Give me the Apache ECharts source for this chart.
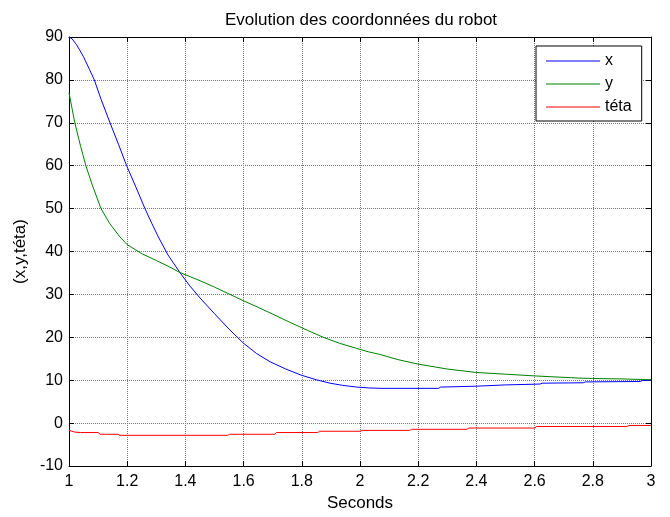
<!DOCTYPE html>
<html>
<head>
<meta charset="utf-8">
<script src="https://cdn.jsdelivr.net/npm/echarts@6/dist/echarts.min.js"></script>
<style>
  html, body { margin: 0; padding: 0; background: #fff; }
  #chart { width: 670px; height: 517px; }
</style>
</head>
<body>
<div id="chart"></div>
<script>
// Robot coordinates over time (seconds)
const xTimes = [1.0, 1.01, 1.026, 1.049, 1.07, 1.087, 1.11, 1.141, 1.17, 1.198, 1.23, 1.261, 1.285, 1.307, 1.34, 1.381, 1.415, 1.45, 1.5, 1.55, 1.6, 1.645, 1.691, 1.745, 1.797, 1.85, 1.897, 1.94, 1.989, 2.03, 2.069, 2.27, 2.277, 2.398, 2.5, 2.619, 2.626, 2.767, 2.774, 2.962, 2.97, 3.0];
const xValues = [90, 89.6, 88.2, 85.5, 82.5, 80, 75.5, 70, 65, 60, 55, 50, 46.5, 43.4, 39.2, 35.1, 32.0, 29.2, 25.5, 21.9, 18.6, 16.2, 14.3, 12.6, 11.2, 10.1, 9.3, 8.8, 8.4, 8.2, 8.1, 8.1, 8.4, 8.6, 8.9, 9.1, 9.3, 9.4, 9.6, 9.7, 9.9, 10.0];

const yTimes = [1.0, 1.01, 1.02, 1.04, 1.058, 1.08, 1.11, 1.14, 1.175, 1.2, 1.25, 1.3, 1.34, 1.381, 1.45, 1.5, 1.553, 1.6, 1.656, 1.7, 1.759, 1.82, 1.874, 1.93, 1.989, 2.03, 2.069, 2.13, 2.2, 2.3, 2.4, 2.5, 2.6, 2.75, 2.8, 2.9, 3.0];
const yValues = [77, 73.5, 70, 64.5, 60, 55.5, 50, 46.5, 43.4, 41.6, 39.5, 37.9, 36.6, 35.1, 33.2, 31.7, 30.0, 28.5, 26.8, 25.4, 23.5, 21.6, 20.0, 18.6, 17.4, 16.6, 16.0, 14.8, 13.75, 12.6, 11.8, 11.4, 11.0, 10.5, 10.4, 10.3, 10.1];

const tetaTimes = [1.0, 1.02, 1.04, 1.1, 1.107, 1.168, 1.175, 1.545, 1.552, 1.707, 1.714, 1.854, 1.861, 2.0, 2.007, 2.17, 2.177, 2.367, 2.374, 2.6, 2.607, 2.917, 2.924, 3.0];
const tetaValues = [-1.7, -2.1, -2.2, -2.2, -2.6, -2.6, -2.85, -2.85, -2.6, -2.6, -2.2, -2.2, -1.9, -1.9, -1.7, -1.7, -1.45, -1.45, -1.15, -1.15, -0.8, -0.8, -0.55, -0.55];

const xTicks = [1, 1.2, 1.4, 1.6, 1.8, 2, 2.2, 2.4, 2.6, 2.8, 3];
const yTicks = [-10, 0, 10, 20, 30, 40, 50, 60, 70, 80, 90];

const seriesNames = ['x', 'y', 't\u00e9ta'];
const seriesColors = ['#0000ff', '#008000', '#ff0000'];

const zip = (ts, vs) => ts.map((t, i) => [t, vs[i]]);

const FONT = 'Liberation Sans, Arial, Helvetica, sans-serif';

const baseX = {
  type: 'value',
  min: xTicks[0],
  max: xTicks[xTicks.length - 1],
  interval: 0.2,
  axisLine: { show: true, onZero: false, lineStyle: { color: '#000', width: 1 } },
  axisTick: { show: true, inside: true, length: 5, lineStyle: { color: '#000' } },
  splitLine: { show: false }
};
const baseY = {
  type: 'value',
  min: yTicks[0],
  max: yTicks[yTicks.length - 1],
  interval: 10,
  axisLine: { show: true, onZero: false, lineStyle: { color: '#000', width: 1 } },
  axisTick: { show: true, inside: true, length: 5, lineStyle: { color: '#000' } },
  splitLine: { show: false }
};

const gridLine = { show: true, lineStyle: { color: '#777', type: 'dotted', width: 1 } };

const chart = echarts.init(document.getElementById('chart'), null, { renderer: 'canvas' });

chart.setOption({
  animation: false,
  backgroundColor: '#fff',
  textStyle: { fontFamily: FONT },
  title: {
    text: 'Evolution des coordonn\u00e9es du robot',
    left: 356,
    textAlign: 'center',
    top: 7,
    textStyle: { fontFamily: FONT, fontSize: 17, fontWeight: 'normal', color: '#000' }
  },
  grid: { left: 69, right: 19, top: 37, bottom: 45, containLabel: false },
  legend: {
    orient: 'vertical',
    left: 536,
    top: 46,
    padding: [7, 10, 6, 10],
    itemGap: 7,
    itemWidth: 54,
    itemHeight: 1,
    icon: 'rect',
    backgroundColor: '#fff',
    borderColor: '#000',
    borderWidth: 1,
    borderRadius: 0,
    textStyle: { fontFamily: FONT, fontSize: 16, color: '#000', lineHeight: 16 },
    data: seriesNames
  },
  xAxis: [
    Object.assign({}, baseX, {
      position: 'bottom',
      name: 'Seconds',
      nameLocation: 'middle',
      nameGap: 29,
      nameTextStyle: { fontFamily: FONT, fontSize: 17, color: '#000' },
      axisLabel: {
        color: '#000', fontSize: 16, fontFamily: FONT, margin: 8,
        formatter: v => String(+v.toFixed(1))
      },
      splitLine: gridLine
    }),
    Object.assign({}, baseX, { position: 'top', axisLabel: { show: false } })
  ],
  yAxis: [
    Object.assign({}, baseY, {
      position: 'left',
      name: '(x,y,t\u00e9ta)',
      nameLocation: 'middle',
      nameGap: 40,
      nameTextStyle: { fontFamily: FONT, fontSize: 17, color: '#000' },
      axisLabel: { color: '#000', fontSize: 16, fontFamily: FONT, margin: 6 },
      splitLine: gridLine
    }),
    Object.assign({}, baseY, { position: 'right', axisLabel: { show: false } })
  ],
  series: [
    { name: seriesNames[0], type: 'line', data: zip(xTimes, xValues) },
    { name: seriesNames[1], type: 'line', data: zip(yTimes, yValues) },
    { name: seriesNames[2], type: 'line', data: zip(tetaTimes, tetaValues) }
  ].map((s, i) => Object.assign(s, {
    xAxisIndex: 0,
    yAxisIndex: 0,
    showSymbol: false,
    symbol: 'none',
    color: seriesColors[i],
    lineStyle: { color: seriesColors[i], width: 1 },
    emphasis: { disabled: true }
  }))
});
</script>
</body>
</html>
